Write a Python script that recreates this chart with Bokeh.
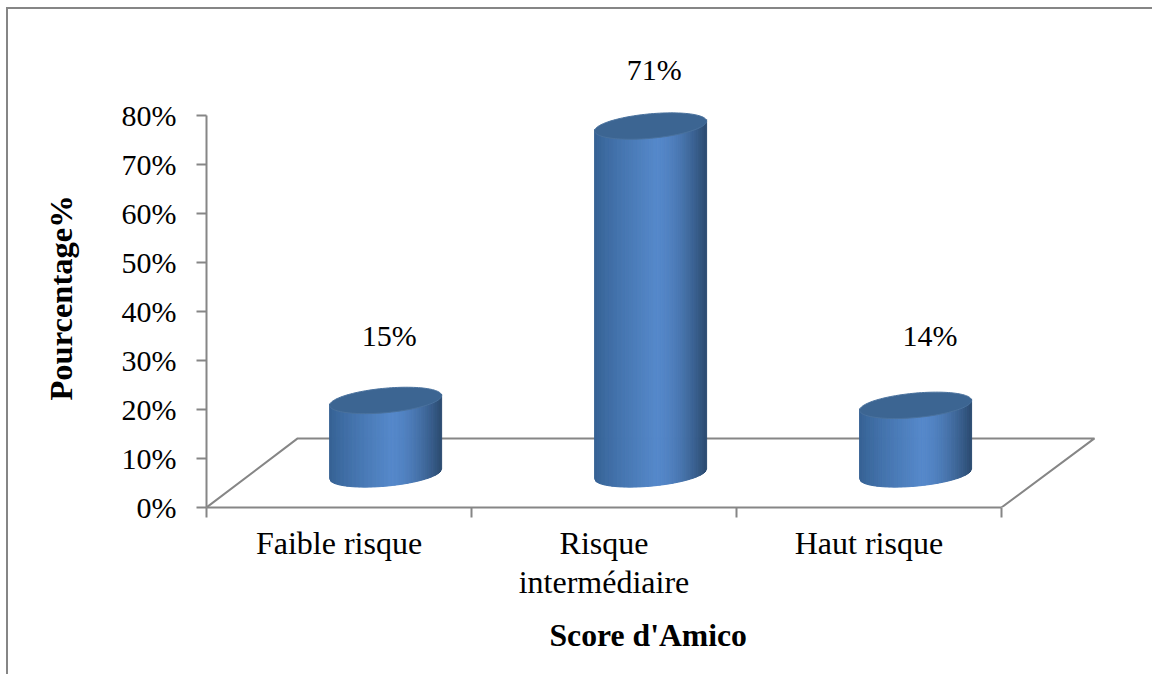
import numpy as np
from bokeh.core.properties import value
from bokeh.embed import file_html
from bokeh.models import FixedTicker, Range1d, Title
from bokeh.plotting import figure
from bokeh.resources import INLINE

# Risk groups and their share of patients (%)
categories = ["Faible risque", "Risque\nintermédiaire", "Haut risque"]
percentages = [15, 71, 14]
y_ticks = [0, 10, 20, 30, 40, 50, 60, 70, 80]

# Placement of the value labels relative to the bar value
label_shift_x = [0.69, 0.69, 0.73]
label_shift_y = [20.1, 18.3, 21.1]

SERIF = "Liberation Serif"
GREY = "#868686"

# Oblique projection of the floor and the cylinders
DEPTH_X = 0.344
DEPTH_Y = 14.1
BASE_X = 0.676
BASE_Y = 6.85
RADIUS_X = 0.2113
RADIUS_Y = 2.5
TILT = 1.0

FRAME_LEFT = 206
FRAME_BOTTOM = 507

p = figure(
    width=1152, height=674, output_backend="svg", toolbar_location=None,
    x_range=Range1d(0, 3.37), y_range=Range1d(0, 97.35),
    min_border_left=FRAME_LEFT, min_border_right=53, min_border_top=30,
    min_border_bottom=674 - FRAME_BOTTOM,
    background_fill_color="white", border_fill_color="white",
)
p.outline_line_color = None
p.grid.visible = False

# Horizontal axis: marks at the category boundaries, names between them
xa = p.xaxis[0]
xa.bounds = (0, len(categories))
xa.ticker = FixedTicker(
    ticks=[i + 0.5 for i in range(len(categories))],
    minor_ticks=list(range(len(categories) + 1)),
)
xa.major_label_overrides = {i + 0.5: c for i, c in enumerate(categories)}
xa.major_tick_out = 0
xa.major_tick_in = 0
xa.minor_tick_out = 10
xa.minor_tick_in = 0
xa.minor_tick_line_color = GREY
xa.minor_tick_line_width = 2
xa.axis_line_color = GREY
xa.axis_line_width = 2
xa.major_label_standoff = 7
xa.major_label_text_font = SERIF
xa.major_label_text_font_size = "32px"
xa.major_label_text_color = "black"
xa.major_label_text_line_height = 1.1

# Vertical axis in percent
ya = p.yaxis[0]
ya.bounds = (0, 80)
ya.ticker = FixedTicker(ticks=y_ticks, minor_ticks=[])
ya.major_label_overrides = {t: f"{t}%" for t in y_ticks}
ya.major_tick_out = 10
ya.major_tick_in = 0
ya.major_tick_line_color = GREY
ya.major_tick_line_width = 2
ya.axis_line_color = GREY
ya.axis_line_width = 2
ya.major_label_standoff = 20
ya.major_label_text_font = SERIF
ya.major_label_text_font_size = "30px"
ya.major_label_text_color = "black"

# Floor of the chart, seen in perspective
n = len(categories)
p.line([0, DEPTH_X, n + DEPTH_X + 0.007, n], [0, DEPTH_Y, DEPTH_Y, 0], line_color=GREY, line_width=2)


def mix(a, b, f):
    rgb = [round(a[i] + (b[i] - a[i]) * f) for i in range(3)]
    return "#%02x%02x%02x" % tuple(rgb)


def body_color(f):
    # Light band slightly right of the middle, falling off to both sides
    edge_l, mid, edge_r = (0x35, 0x61, 0x93), (0x55, 0x88, 0xca), (0x2c, 0x4c, 0x72)
    if f < 0.55:
        return mix(edge_l, mid, (f / 0.55) ** 0.8)
    return mix(mid, edge_r, ((f - 0.55) / 0.45) ** 1.7)


strips = 84
for i, v in enumerate(percentages):
    cx = i + BASE_X
    top = BASE_Y + v
    edges = np.linspace(-1, 1, strips + 1)
    xs, ys, colors = [], [], []
    for k in range(strips):
        u0, u1 = edges[k], edges[k + 1]
        a0, a1 = np.sqrt(1 - u0**2), np.sqrt(1 - u1**2)
        x0, x1 = cx + RADIUS_X * u0, cx + RADIUS_X * u1
        # Side wall between the front arcs of the bottom and the top rim
        xs.append([x0, x1, x1, x0])
        ys.append([
            BASE_Y + TILT * u0 - RADIUS_Y * a0,
            BASE_Y + TILT * u1 - RADIUS_Y * a1,
            top + TILT * u1 - RADIUS_Y * a1 + 0.3,
            top + TILT * u0 - RADIUS_Y * a0 + 0.3,
        ])
        colors.append(body_color(k / (strips - 1)))
    p.patches(xs, ys, fill_color=colors, line_color=colors, line_width=1)

    t = np.linspace(0, 2 * np.pi, 121)
    p.patch(
        cx + RADIUS_X * np.cos(t),
        top + TILT * np.cos(t) + RADIUS_Y * np.sin(t),
        fill_color="#3c6592", line_color="#4a729e", line_width=1,
    )

# Percentages above the bars
p.text(
    x=[i + s for i, s in enumerate(label_shift_x)],
    y=[v + s for v, s in zip(percentages, label_shift_y)],
    text=[f"{v}%" for v in percentages],
    text_font=value(SERIF), text_font_size="30px", text_color="black",
    text_align="center", text_baseline="middle",
)

# Axis titles, placed as side panels of the figure
p.add_layout(Title(
    text="Pourcentage%", align="left", offset=FRAME_BOTTOM - 400, standoff=80,
    text_font=SERIF, text_font_size="32.5px", text_font_style="bold", text_color="black",
), "left")
p.add_layout(Title(
    text="Score d'Amico", align="left", offset=549 - FRAME_LEFT, standoff=25,
    text_font=SERIF, text_font_size="31.7px", text_font_style="bold", text_color="black",
), "below")

# Page frame, open towards the right and the bottom
p.stylesheets = [
    ":host::after { content: ''; position: absolute; left: 6px; top: 7px; right: 0; bottom: 0;"
    " border-left: 2px solid #868686; border-top: 2px solid #868686; pointer-events: none; }"
]

with open("out.html", "w") as f:
    f.write(file_html(p, INLINE))
